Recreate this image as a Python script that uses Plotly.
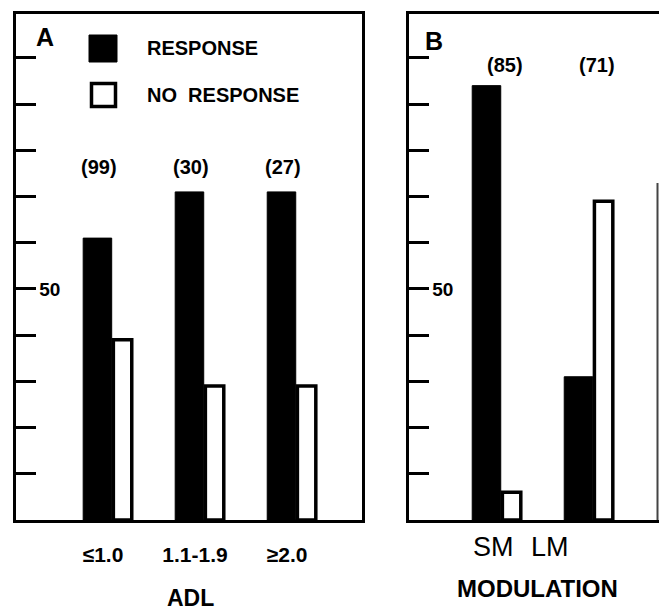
import plotly.graph_objects as go

# ---- data ----
adl_categories = ["≤1.0", "1.1-1.9", "≥2.0"]
adl_response = [61, 71, 71]
adl_no_response = [39, 29, 29]
adl_counts = [99, 30, 27]

mod_categories = ["SM", "LM"]
mod_response = [94, 31]
mod_no_response = [6, 69]
mod_counts = [85, 71]

y_tick_values = [10, 20, 30, 40, 50, 60, 70, 80, 90, 100]
y_tick_labels = ["50" if v == 50 else "" for v in y_tick_values]

# ---- layout helpers ----
W, H = 659, 612
FONT = "Liberation Sans, Arial, Helvetica, sans-serif"


def px(x):
    return x / W


def py(y):
    return 1 - y / H


BLACK = "#000000"
RESP_OFF, RESP_W = -0.27, 0.31
NR_OFF, NR_W = 0.058, 0.20

fig = go.Figure()


def add_bars(cats, resp, nresp, xa, ya):
    fig.add_trace(go.Bar(
        x=cats, y=resp, xaxis=xa, yaxis=ya,
        width=[RESP_W] * len(cats), offset=[RESP_OFF] * len(cats),
        marker=dict(color=BLACK, line=dict(color=BLACK, width=1)),
        showlegend=False, hoverinfo="skip"))
    fig.add_trace(go.Bar(
        x=cats, y=nresp, xaxis=xa, yaxis=ya,
        width=[NR_W] * len(cats), offset=[NR_OFF] * len(cats),
        marker=dict(color="white", line=dict(color=BLACK, width=3.5)),
        showlegend=False, hoverinfo="skip"))


add_bars(adl_categories, adl_response, adl_no_response, "x", "y")
add_bars(mod_categories, mod_response, mod_no_response, "x2", "y2")

y_dom = [py(520), py(14)]
yrange = [0, 109.5]

common_y = dict(
    range=yrange, domain=y_dom, showgrid=False, zeroline=False,
    showline=True, linecolor=BLACK, linewidth=3,
    ticks="inside", ticklen=20, tickwidth=3, tickcolor=BLACK,
    tickvals=y_tick_values, ticktext=y_tick_labels,
    ticklabelposition="inside", ticklabelstandoff=4,
    tickfont=dict(family=FONT, size=19, color=BLACK, weight="bold"),
    fixedrange=True,
)

fig.update_layout(
    width=W, height=H, autosize=False,
    margin=dict(l=0, r=0, t=0, b=0),
    paper_bgcolor="white", plot_bgcolor="white",
    barmode="overlay", bargap=0,
    xaxis=dict(
        domain=[px(16), px(362)], range=[-1.0, 2.76],
        type="category", categoryorder="array", categoryarray=adl_categories,
        showline=True, linecolor=BLACK, linewidth=3, mirror=True,
        showgrid=False, zeroline=False, ticks="",
        tickfont=dict(family=FONT, size=21, color=BLACK, weight="bold"),
        ticklabelshift=-5, ticklabelstandoff=14,
        anchor="y", fixedrange=True,
    ),
    yaxis=dict(anchor="x", mirror=True, **common_y),
    xaxis2=dict(
        domain=[px(409), 1.0], range=[-0.957, 1.76],
        type="category", categoryorder="array", categoryarray=mod_categories,
        showline=True, linecolor=BLACK, linewidth=3, mirror=True,
        showgrid=False, zeroline=False, ticks="", showticklabels=False,
        anchor="y2", fixedrange=True,
    ),
    yaxis2=dict(anchor="x2", mirror=False, **common_y),
)

annotations = []
shapes = []

# counts above bars
for c, n in zip(adl_categories, adl_counts):
    annotations.append(dict(x=c, y=76.4, xref="x", yref="y", text=f"({n})",
                            showarrow=False, xshift=-9,
                            font=dict(family=FONT, size=20, color=BLACK, weight="bold")))
for c, n in zip(mod_categories, mod_counts):
    annotations.append(dict(x=c, y=98.5, xref="x2", yref="y2", text=f"({n})",
                            showarrow=False, xshift=8,
                            font=dict(family=FONT, size=20, color=BLACK, weight="bold")))

# panel B category labels (placed as in the original figure)
for c, shift in zip(mod_categories, [-4, -39]):
    annotations.append(dict(x=c, y=py(547), xref="x2", yref="paper", text=c,
                            showarrow=False, xshift=shift, yanchor="middle",
                            font=dict(family=FONT, size=27, color=BLACK)))

# axis titles
annotations.append(dict(x=px(190), y=py(598), xref="paper", yref="paper", text="ADL",
                        showarrow=False, xanchor="center", yanchor="middle",
                        font=dict(family=FONT, size=23, color=BLACK, weight="bold")))
annotations.append(dict(x=px(537), y=py(588), xref="paper", yref="paper", text="MODULATION",
                        showarrow=False, xanchor="center", yanchor="middle",
                        font=dict(family=FONT, size=24, color=BLACK, weight="bold")))

# panel letters
annotations.append(dict(x=px(45), y=py(37), xref="paper", yref="paper", text="A",
                        showarrow=False, xanchor="center", yanchor="middle",
                        font=dict(family=FONT, size=25, color=BLACK, weight="bold")))
annotations.append(dict(x=px(434), y=py(41), xref="paper", yref="paper", text="B",
                        showarrow=False, xanchor="center", yanchor="middle",
                        font=dict(family=FONT, size=25, color=BLACK, weight="bold")))

# legend
shapes.append(dict(type="rect", xref="paper", yref="paper",
                   x0=px(89), x1=px(117), y0=py(62), y1=py(35),
                   fillcolor=BLACK, line=dict(color=BLACK, width=1)))
shapes.append(dict(type="rect", xref="paper", yref="paper",
                   x0=px(91.5), x1=px(115.5), y0=py(106.5), y1=py(83.5),
                   fillcolor="white", line=dict(color=BLACK, width=3.5)))
annotations.append(dict(x=px(145), y=py(48), xref="paper", yref="paper", text="RESPONSE",
                        showarrow=False, xanchor="left", yanchor="middle",
                        font=dict(family=FONT, size=20, color=BLACK, weight="bold")))
annotations.append(dict(x=px(145), y=py(95), xref="paper", yref="paper", text="NO  RESPONSE",
                        showarrow=False, xanchor="left", yanchor="middle",
                        font=dict(family=FONT, size=20, color=BLACK, weight="bold")))

# faint edge line at right border of panel B (cut off in original)
shapes.append(dict(type="line", xref="paper", yref="paper",
                   x0=px(657.5), x1=px(657.5), y0=py(520), y1=py(183),
                   line=dict(color="#444444", width=2)))

fig.update_layout(annotations=annotations, shapes=shapes)

fig.write_html(
    "out.html",
    config={"displayModeBar": False, "staticPlot": True},
    post_script="document.body.style.margin='0';document.body.style.padding='0';"
                "document.body.style.overflow='hidden';",
)
